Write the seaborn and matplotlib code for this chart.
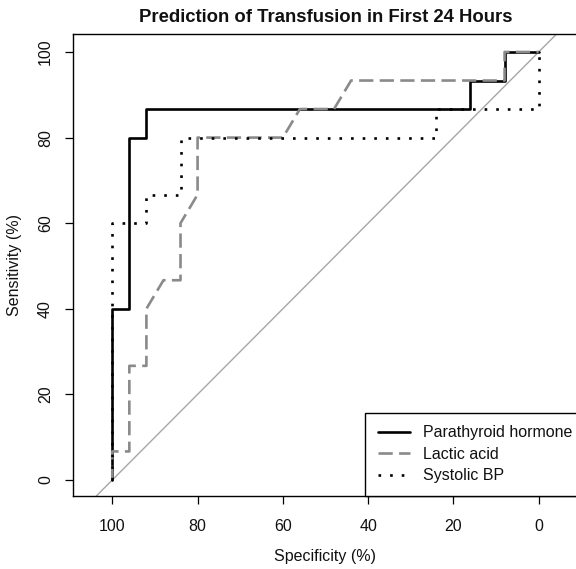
import matplotlib
matplotlib.use("Agg")
import matplotlib.pyplot as plt
import seaborn as sns
import pandas as pd

# ---- data ----
title = "Prediction of Transfusion in First 24 Hours"
x_label = "Specificity (%)"
y_label = "Sensitivity (%)"
series_names = ["Parathyroid hormone", "Lactic acid", "Systolic BP"]

pth_spec = [100, 100, 96, 96, 92, 92, 16, 16, 8, 8, 0]
pth_sens = [0, 40, 40, 80, 80, 86.67, 86.67, 93.33, 93.33, 100, 100]

lac_spec = [100, 100, 96, 96, 92, 92, 88, 84, 84, 80, 80, 60, 56, 48, 44, 8, 8, 0]
lac_sens = [0, 6.67, 6.67, 26.67, 26.67, 40, 46.67, 46.67, 60, 66.67, 80, 80,
            86.67, 86.67, 93.33, 93.33, 100, 100]

sbp_spec = [100, 100, 92, 92, 84, 84, 24, 24, 0, 0]
sbp_sens = [0, 60, 60, 66.67, 66.67, 80, 80, 86.67, 86.67, 100]

x_ticks = [100, 80, 60, 40, 20, 0]
y_ticks = [0, 20, 40, 60, 80, 100]

# ---- styling ----
sns.set_theme(style="white")
plt.rcParams["font.family"] = ["Liberation Sans", "DejaVu Sans"]

W, H = 576, 569
fig = plt.figure(figsize=(W / 100, H / 100), dpi=100)
ax = fig.add_axes([72.5 / W, (H - 496) / H, (578.4 - 72.5) / W, (496 - 34) / H])

FS = 11.5

# diagonal reference line
ax.axline((100, 0), (0, 100), color="#a6a6a6", lw=1.0, zorder=1)

styles = [
    dict(color="black", linestyle="-", lw=1.9),
    dict(color="#8a8a8a", linestyle=(0, (5.4, 2.4)), lw=1.9),
    dict(color="black", linestyle=(0, (1, 3.4)), lw=1.9),
]
data = [(pth_spec, pth_sens), (lac_spec, lac_sens), (sbp_spec, sbp_sens)]
for name, (sx, sy), st in zip(series_names, data, styles):
    df = pd.DataFrame({"spec": sx, "sens": sy})
    sns.lineplot(data=df, x="spec", y="sens", sort=False, estimator=None,
                 ax=ax, label=name, zorder=2, **st)

ax.set_xlim(109.33, -9.31)
ax.set_ylim(-3.74, 104.2)
ax.set_xticks(x_ticks)
ax.set_yticks(y_ticks)
ax.set_xticklabels([str(t) for t in x_ticks])
ax.set_yticklabels([str(t) for t in y_ticks])
ax.tick_params(axis="both", which="major", direction="out", length=5.8, width=0.9,
               color="black", labelsize=FS, labelcolor="#111111",
               bottom=True, left=True, top=False, right=False)
ax.tick_params(axis="x", pad=11.0)
ax.tick_params(axis="y", pad=8.3)
for lab in ax.get_yticklabels():
    lab.set_rotation(90)
    lab.set_va("center")

for sp in ax.spines.values():
    sp.set_color("black")
    sp.set_linewidth(1.0)
    sp.set_visible(True)

ax.set_xlabel(x_label, fontsize=FS, color="#111111")
ax.xaxis.set_label_coords(0.5, (496 - 561) / (496 - 34))
ax.xaxis.label.set_verticalalignment("baseline")
ax.set_ylabel(y_label, fontsize=FS, color="#111111")
ax.yaxis.set_label_coords((19.5 - 72.5) / (578.4 - 72.5), 0.5)
ax.yaxis.label.set_verticalalignment("baseline")

ax.set_title(title, fontsize=13.3, fontweight="bold", pad=8.9, color="#111111")

leg = ax.legend(loc="lower right", bbox_to_anchor=((585 - 72.5) / (578.4 - 72.5), 0.0),
                borderaxespad=0.0, frameon=True, fancybox=False, framealpha=1.0,
                edgecolor="black", fontsize=FS, handlelength=2.0, handletextpad=0.8,
                borderpad=0.8, labelspacing=0.4)
leg.get_frame().set_linewidth(1.0)
for t in leg.get_texts():
    t.set_color("#111111")

fig.savefig("out.png", dpi=100)
